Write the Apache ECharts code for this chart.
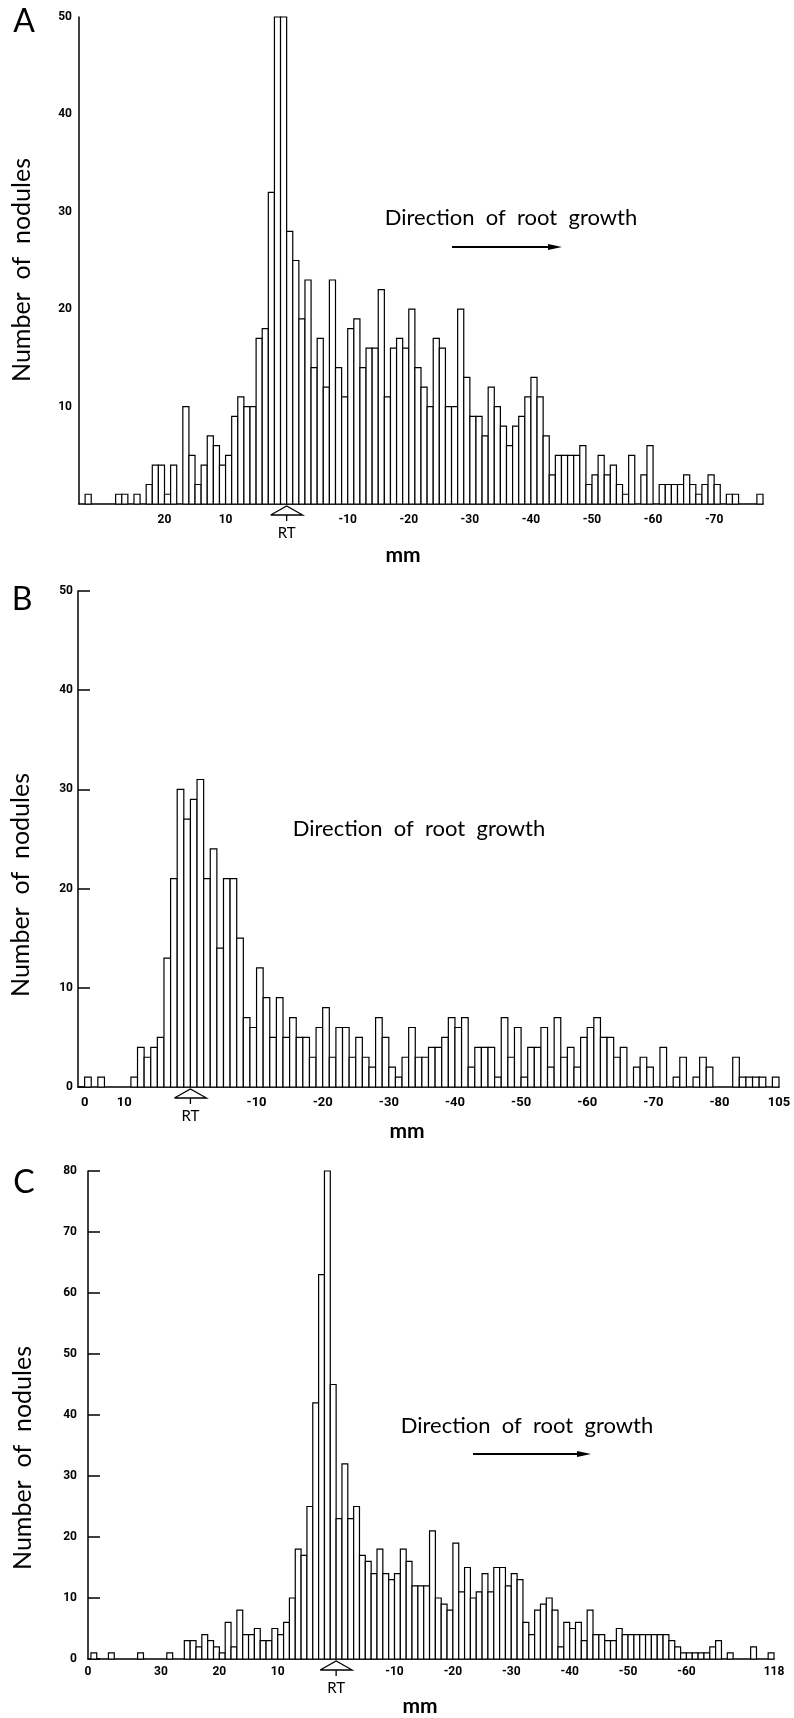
<!DOCTYPE html>
<html>
<head>
<meta charset="utf-8">
<script src="https://cdn.jsdelivr.net/npm/echarts@6/dist/echarts.min.js"></script>
<style>
html,body{margin:0;padding:0;background:#fff;}
#c{width:794px;height:1718px;}
</style>
</head>
<body>
<div id="c"></div>
<script>
// ---------- DATA ----------
// Panel A: 1-mm bins, first bin starts at +33 mm (RT = 0), running towards -78 mm
const aStart = 33;
const aCounts = [1,0,0,0,0,1,1,0,1,0,2,4,4,1,4,
  0,
  10,5,2,4,7,6,4,5,9,11,10,10,17,18,32,
  50,50,
  28,25,19,23,14,17,12,23,14,11,18,19,14,16,16,22,11,16,17,16,20,14,12,10,17,16,10,10,20,13,
  9,9,7,12,10,8,6,8,9,11,13,11,7,3,5,5,5,5,6,2,3,5,3,4,2,1,5,0,3,6,0,2,2,2,2,3,2,1,2,3,2,0,1,1,0,0,0,1];
const aTickValues = [20,10,-10,-20,-30,-40,-50,-60,-70];
const aTickLabels = ['20','10','-10','-20','-30','-40','-50','-60','-70'];

// Panel B: first bin starts at +16 mm, 105 bins
const bStart = 16;
const bCounts = [1,0,1,0,0,0,0,1,4,3,4,5,13,21,30,27,29,31,21,24,14,21,21,15,7,6,12,9,5,9,5,7,5,
  5,3,6,8,3,6,6,3,5,3,2,7,5,2,1,3,6,3,3,4,4,5,7,6,7,2,4,4,4,1,7,3,6,1,4,4,
  6,2,7,3,4,2,5,6,7,5,5,3,4,0,2,3,2,0,4,0,1,3,0,1,3,2,0,0,0,3,1,1,1,1,0,1];
const bTickValues = [16,10,-10,-20,-30,-40,-50,-60,-70,-80,-89];
const bTickLabels = ['0','10','-10','-20','-30','-40','-50','-60','-70','-80','105'];

// Panel C: first bin starts at +42 mm, 117 bins
const cStart = 42;
const cCounts = [1,0,0,1,0,0,0,0,1,0,0,0,0,1,0,0,
  3,3,2,4,3,2,1,6,2,8,4,4,5,3,3,
  5,4,6,10,18,17,25,42,63,80,45,23,32,23,25,17,16,14,18,14,13,14,18,16,12,12,12,21,10,9,
  8,19,11,15,10,11,14,11,15,15,12,14,13,6,4,8,9,10,8,2,6,5,6,3,8,4,4,3,
  3,5,4,4,4,4,4,4,4,4,3,2,1,1,1,1,1,2,3,0,1,0,0,0,2,0,0,1];
const cTickValues = [42.5,30,20,10,-10,-20,-30,-40,-50,-60,-75];
const cTickLabels = ['0','30','20','10','-10','-20','-30','-40','-50','-60','118'];

// ---------- LAYOUT ----------
const numFont = "'Liberation Sans Narrow', Roboto, 'DejaVu Sans', sans-serif";
const txtFont = "Lato, 'Noto Sans', sans-serif";

const panels = [
  {letter:'A', start:aStart, counts:aCounts, xMin:-78, xMax:34, yMax:50, tv:aTickValues, tl:aTickLabels,
   grid:{left:79, top:17, width:684, height:487}, yTicks:false, yZero:false, xFs:12, yFs:12, xMargin:10, yMargin:7,
   letterPos:[24,22], namePos:[22,270], dirPos:[511,218], arrow:[452,562,247], mmPos:[403,555]},
  {letter:'B', start:bStart, counts:bCounts, xMin:-89, xMax:17, yMax:50, tv:bTickValues, tl:bTickLabels,
   grid:{left:78, top:591, width:701, height:496}, yTicks:true, yZero:true, xFs:13, yFs:12, xMargin:9, yMargin:5,
   letterPos:[22,600], namePos:[21,885], dirPos:[419,829], arrow:null, mmPos:[407,1131]},
  {letter:'C', start:cStart, counts:cCounts, xMin:-75, xMax:42.5, yMax:80, tv:cTickValues, tl:cTickLabels,
   grid:{left:88, top:1171, width:686, height:488}, yTicks:true, yZero:true, xFs:12, yFs:12, xMargin:7, yMargin:11,
   letterPos:[24,1183], namePos:[23,1458], dirPos:[527,1426], arrow:[473,591,1454], mmPos:[420,1706]}
];

const chart = echarts.init(document.getElementById('c'), null, {renderer:'canvas'});

function histRender(params, api) {
  const v = api.value(1);
  if (!v) return null;
  const x = api.value(0);
  const a = api.coord([x + 0.5, v]);
  const b = api.coord([x - 0.5, 0]);
  return {
    type:'rect',
    shape:{x:Math.min(a[0],b[0]), y:Math.min(a[1],b[1]), width:Math.abs(b[0]-a[0]), height:Math.abs(b[1]-a[1])},
    style:{fill:'#fff', stroke:'#000', lineWidth:1.2}
  };
}

const option = {
  animation:false,
  backgroundColor:'#fff',
  grid: panels.map(p => Object.assign({containLabel:false}, p.grid)),
  xAxis: panels.map((p,k) => ({
    gridIndex:k, type:'value', inverse:true, min:p.xMin, max:p.xMax,
    axisLine:{show:true, onZero:false, lineStyle:{color:'#000', width:1.5}},
    axisTick:{show:false}, splitLine:{show:false},
    axisLabel:{customValues:p.tv, color:'#000', fontSize:p.xFs, fontWeight:'bold', fontFamily:numFont, margin:p.xMargin,
      formatter: v => { const i = p.tv.indexOf(v); return i >= 0 ? p.tl[i] : ''; }}
  })),
  yAxis: panels.map((p,k) => ({
    gridIndex:k, type:'value', min:0, max:p.yMax, interval:10,
    axisLine:{show:true, onZero:false, lineStyle:{color:'#000', width:1.5}},
    axisTick:{show:p.yTicks, inside:true, length:12, lineStyle:{color:'#000', width:1.5}},
    splitLine:{show:false},
    axisLabel:{color:'#000', fontSize:p.yFs, fontWeight:'bold', fontFamily:numFont, margin:p.yMargin,
      formatter: v => (v === 0 && !p.yZero) ? '' : String(v)}
  })),
  series: panels.map((p,k) => ({
    type:'custom', xAxisIndex:k, yAxisIndex:k, silent:true, clip:false,
    data: p.counts.map((c,i) => [p.start - i - 0.5, c]),
    renderItem: histRender
  }))
};
chart.setOption(option);

// ---------- ANNOTATIONS ----------
const g = [];
panels.forEach((p,k) => {
  g.push({type:'text', x:p.letterPos[0], y:p.letterPos[1],
    style:{text:p.letter, fontSize:32, fontFamily:txtFont, fill:'#000', align:'center', verticalAlign:'middle'}});
  g.push({type:'text', x:p.namePos[0], y:p.namePos[1], rotation:Math.PI/2,
    style:{text:'Number  of  nodules', fontSize:25, fontFamily:txtFont, fill:'#000', align:'center', verticalAlign:'middle'}});
  g.push({type:'text', x:p.dirPos[0], y:p.dirPos[1],
    style:{text:'Direction  of  root  growth', fontSize:22, fontFamily:txtFont, fill:'#000', align:'center', verticalAlign:'middle'}});
  if (p.arrow) {
    const [x0,x1,y] = p.arrow;
    g.push({type:'line', shape:{x1:x0, y1:y, x2:x1-10, y2:y}, style:{stroke:'#000', lineWidth:1.8}});
    g.push({type:'polygon', shape:{points:[[x1-14,y-3],[x1,y],[x1-14,y+3]]}, style:{fill:'#000'}});
  }
  g.push({type:'text', x:p.mmPos[0], y:p.mmPos[1],
    style:{text:'mm', fontSize:21, fontWeight:'bold', fontFamily:txtFont, fill:'#000', align:'center', verticalAlign:'middle'}});
  const rt = chart.convertToPixel({xAxisIndex:k, yAxisIndex:k}, [0, 0]);
  const cx = rt[0], yb = rt[1];
  g.push({type:'polyline', shape:{points:[[cx-16,yb+11],[cx,yb+2],[cx+16,yb+11],[cx-16,yb+11]]}, style:{stroke:'#000', lineWidth:1.3, fill:null}});
  g.push({type:'line', shape:{x1:cx, y1:yb+11, x2:cx, y2:yb+17}, style:{stroke:'#000', lineWidth:1.3}});
  g.push({type:'text', x:cx, y:yb+29,
    style:{text:'RT', fontSize:15, fontFamily:txtFont, fill:'#000', align:'center', verticalAlign:'middle'}});
});
chart.setOption({graphic:g});
</script>
</body>
</html>
